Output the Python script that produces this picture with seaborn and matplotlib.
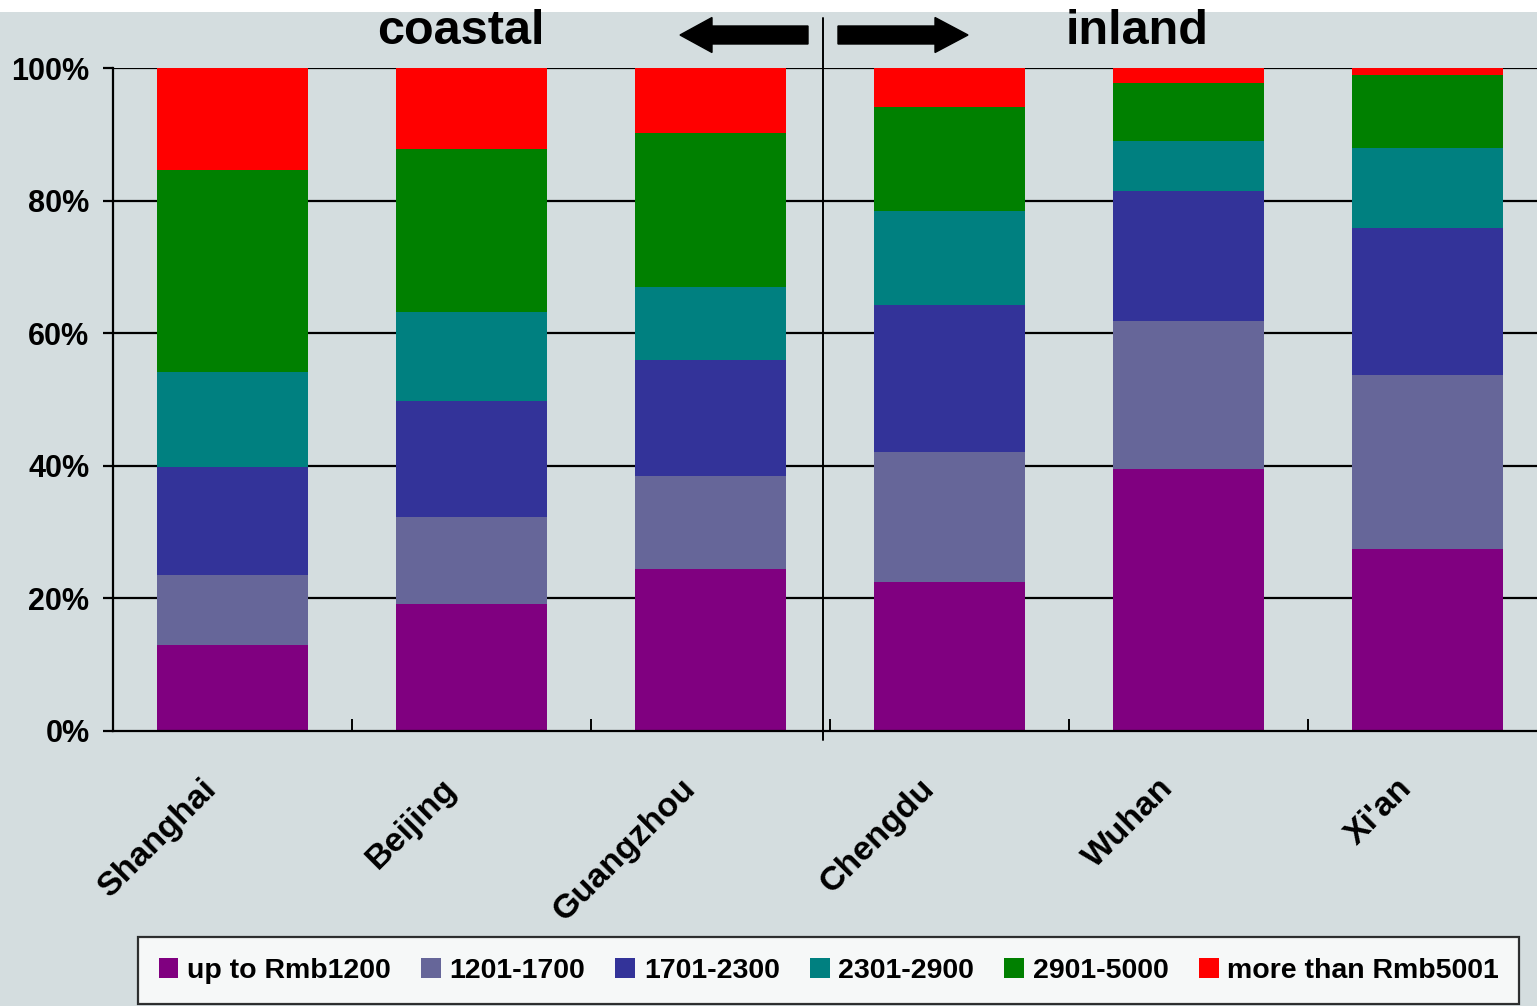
import numpy as np
import pandas as pd
import matplotlib
matplotlib.use("Agg")
import matplotlib.pyplot as plt
from matplotlib.patches import Patch, FancyArrow, Rectangle
from matplotlib.lines import Line2D
from matplotlib.transforms import ScaledTranslation
import seaborn as sns

sns.set_theme(style="white")
plt.rcParams['font.family'] = ['Liberation Sans', 'DejaVu Sans']
plt.rcParams['font.weight'] = 'bold'
plt.rcParams['text.color'] = 'black'
plt.rcParams['xtick.color'] = 'black'
plt.rcParams['ytick.color'] = 'black'

# data (share of respondents, %)
cities = ["Shanghai", "Beijing", "Guangzhou", "Chengdu", "Wuhan", "Xi'an"]
income_bands = ["up to Rmb1200", "1201-1700", "1701-2300", "2301-2900", "2901-5000", "more than Rmb5001"]
up_to_1200 = [13.0, 19.2, 24.4, 22.5, 39.5, 27.5]
b1201_1700 = [10.5, 13.1, 14.1, 19.6, 22.3, 26.2]
b1701_2300 = [16.3, 17.5, 17.5, 22.2, 19.6, 22.2]
b2301_2900 = [14.3, 13.4, 11.0, 14.1, 7.6, 12.0]
b2901_5000 = [30.5, 24.6, 23.2, 15.7, 8.7, 11.0]
over_5001 = [15.4, 12.2, 9.8, 5.9, 2.3, 1.1]
band_colors = ["#800080", "#666699", "#333399", "#008080", "#008000", "#FF0000"]
yticks = [0, 20, 40, 60, 80, 100]
ytick_labels = ["0%", "20%", "40%", "60%", "80%", "100%"]

bg = "#D4DDDF"
W, H = 1537, 1006

df = pd.DataFrame([up_to_1200, b1201_1700, b1701_2300, b2301_2900, b2901_5000, over_5001],
                  index=income_bands, columns=cities)
cum = df.cumsum()
cum = cum / cum.iloc[-1] * 100  # normalise to 100%

fig = plt.figure(figsize=(W / 100, H / 100), dpi=100, facecolor=bg)
# white strip on top
fig.patches.append(Rectangle((0, 1 - 12 / H), 1, 12 / H, transform=fig.transFigure,
                             facecolor="white", edgecolor="none", zorder=-5))

ax = fig.add_axes([113 / W, (H - 731) / H, 1434 / W, 663 / H])
ax.set_facecolor(bg)

for yv in yticks[1:]:
    ax.axhline(yv, color="black", lw=1.6, zorder=0)

# stacked bars: draw cumulative heights from top band down
for band, col in zip(income_bands[::-1], band_colors[::-1]):
    sns.barplot(x=cities, y=cum.loc[band].values, color=col, width=0.63,
                saturation=1, linewidth=0, edgecolor="none", ax=ax, zorder=2)

ax.set_xlim(-0.5, 5.5)
ax.set_ylim(0, 100)
for s in ["top", "right"]:
    ax.spines[s].set_visible(False)
for s in ["left", "bottom"]:
    ax.spines[s].set_color("black")
    ax.spines[s].set_linewidth(1.6)
    ax.spines[s].set_zorder(3)

ax.set_yticks(yticks)
ax.set_yticklabels(ytick_labels, fontsize=22, fontweight="bold", color="black")
ax.tick_params(axis="y", direction="out", length=7, width=1.6, color="black", pad=10, left=True)

ax.set_xticks(range(len(cities)))
ax.set_xticklabels(cities, fontsize=24.5, fontweight="bold", rotation=45, color="black",
                   ha="right", rotation_mode="anchor")
ax.tick_params(axis="x", which="major", length=0, pad=30)
shift = ScaledTranslation(-31 / 100, 0, fig.dpi_scale_trans)
for lab in ax.get_xticklabels():
    lab.set_transform(lab.get_transform() + shift)
ax.set_xticks(np.arange(0.5, 5.5, 1.0), minor=True)
ax.tick_params(axis="x", which="minor", direction="in", length=9, width=1.4, color="black", bottom=True)
ax.set_xlabel("")
ax.set_ylabel("")

# overlay in pixel coords for divider, arrows and region labels
ov = fig.add_axes([0, 0, 1, 1], facecolor="none")
ov.set_xlim(0, W)
ov.set_ylim(H, 0)
ov.axis("off")
ov.add_line(Line2D([823, 823], [18, 740], color="black", lw=1.4))
ov.add_patch(FancyArrow(808, 35, -128, 0, width=18, head_width=35, head_length=32,
                        length_includes_head=True, color="black"))
ov.add_patch(FancyArrow(838, 35, 130, 0, width=18, head_width=35, head_length=33,
                        length_includes_head=True, color="black"))
ov.text(461, 44, "coastal", fontsize=35, fontweight="bold", ha="center", va="baseline")
ov.text(1137, 44, "inland", fontsize=35, fontweight="bold", ha="center", va="baseline")

handles = [Patch(facecolor=c, edgecolor="none", label=l) for c, l in zip(band_colors, income_bands)]
leg = fig.legend(handles=handles, loc="upper left", bbox_to_anchor=(138 / W, 1 - 937 / H),
                 ncol=6, frameon=True, fancybox=False, borderpad=0.72, borderaxespad=0,
                 handlelength=0.7, handleheight=0.7, handletextpad=0.3, columnspacing=1.06,
                 prop={"weight": "bold", "size": 20.5})
leg.get_frame().set_edgecolor("black")
leg.get_frame().set_linewidth(1.6)
leg.get_frame().set_facecolor("white")

fig.savefig("out.png", dpi=100, facecolor=bg)
